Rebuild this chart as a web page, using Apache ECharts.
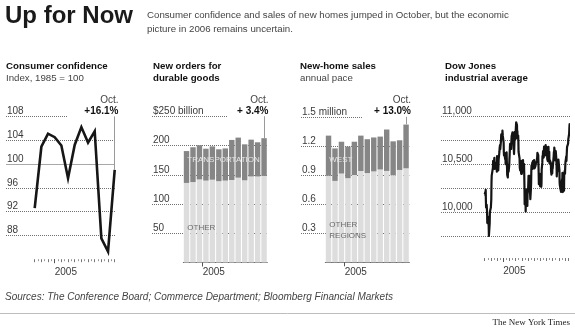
<!DOCTYPE html>
<html><head><meta charset="utf-8">
<script src="https://cdn.jsdelivr.net/npm/echarts@6/dist/echarts.min.js"></script>
<style>html,body{margin:0;padding:0;background:#fff}#c{width:575px;height:331px}</style>
</head><body><div id="c"></div>
<script>
const FONT = "'Liberation Sans', Arial, Helvetica, sans-serif";

// ---------- data ----------
const months = ['Oct 2004','Nov 2004','Dec 2004','Jan 2005','Feb 2005','Mar 2005','Apr 2005','May 2005','Jun 2005','Jul 2005','Aug 2005','Sep 2005','Oct 2005'];
const monthEdges = months.concat(['Nov 2005']);
const dowMonths = months.concat(['Nov 2005']);
const halfMonths = dowMonths.flatMap(m => [m + ' early', m + ' mid']);
const YEAR_LABEL = '2005';

const confidence = [92.6, 102.9, 105.1, 104.5, 103.1, 97.6, 103.2, 106.2, 103.6, 105.5, 87.5, 85.3, 99.0];
const confTicks = [88, 92, 96, 100, 104, 108];
const confTickLabels = ['88', '92', '96', '100', '104', '108'];

const durableOther = [136, 137.5, 142, 140, 141.5, 139, 140, 141, 145, 140.5, 147, 147, 148];
const durableTransport = [54.5, 59.5, 58.5, 54.5, 57, 54.5, 55, 68.5, 68.5, 61.5, 63, 58.5, 64.5];
const durableTicks = [50, 100, 150, 200, 250];
const durableTickLabels = ['50', '100', '150', '200', '$250 billion'];

const homesOther = [0.892, 0.839, 0.915, 0.867, 0.900, 0.941, 0.920, 0.937, 0.957, 0.942, 0.898, 0.952, 0.969];
const homesWest = [0.414, 0.335, 0.328, 0.326, 0.343, 0.365, 0.349, 0.350, 0.339, 0.427, 0.349, 0.306, 0.451];
const homeTicks = [0.3, 0.6, 0.9, 1.2, 1.5];
const homeTickLabels = ['0.3', '0.6', '0.9', '1.2', '1.5 million'];

const dowTicks = [10000, 10500, 11000];
const dowTickLabels = ['10,000', '10,500', '11,000'];
const dowCloses = [
['2004-10-01',10192],['2004-10-04',10216],['2004-10-05',10177],['2004-10-06',10239],['2004-10-07',10125],['2004-10-08',10055],['2004-10-11',10081],['2004-10-12',10077],['2004-10-13',10002],['2004-10-14',9894],['2004-10-15',9933],['2004-10-18',9956],['2004-10-19',9897],['2004-10-20',9886],['2004-10-21',9865],['2004-10-22',9758],['2004-10-25',9749],['2004-10-26',9888],['2004-10-27',10002],['2004-10-28',10004],['2004-10-29',10027],
['2004-11-01',10054],['2004-11-02',10035],['2004-11-03',10137],['2004-11-04',10315],['2004-11-05',10387],['2004-11-08',10391],['2004-11-09',10386],['2004-11-10',10385],['2004-11-11',10469],['2004-11-12',10539],['2004-11-15',10550],['2004-11-16',10487],['2004-11-17',10549],['2004-11-18',10572],['2004-11-19',10456],['2004-11-22',10489],['2004-11-23',10492],['2004-11-24',10520],['2004-11-26',10522],['2004-11-29',10475],['2004-11-30',10428],
['2004-12-01',10590],['2004-12-02',10585],['2004-12-03',10592],['2004-12-06',10547],['2004-12-07',10440],['2004-12-08',10494],['2004-12-09',10552],['2004-12-10',10543],['2004-12-13',10638],['2004-12-14',10676],['2004-12-15',10691],['2004-12-16',10705],['2004-12-17',10661],['2004-12-20',10661],['2004-12-21',10759],['2004-12-22',10815],['2004-12-23',10828],['2004-12-27',10776],['2004-12-28',10854],['2004-12-29',10829],['2004-12-30',10800],['2004-12-31',10783],
['2005-01-03',10730],['2005-01-04',10631],['2005-01-05',10597],['2005-01-06',10622],['2005-01-07',10603],['2005-01-10',10621],['2005-01-11',10557],['2005-01-12',10618],['2005-01-13',10505],['2005-01-14',10558],['2005-01-18',10628],['2005-01-19',10539],['2005-01-20',10471],['2005-01-21',10393],['2005-01-24',10368],['2005-01-25',10461],['2005-01-26',10498],['2005-01-27',10467],['2005-01-28',10427],['2005-01-31',10490],
['2005-02-01',10551],['2005-02-02',10596],['2005-02-03',10593],['2005-02-04',10716],['2005-02-07',10715],['2005-02-08',10724],['2005-02-09',10664],['2005-02-10',10749],['2005-02-11',10796],['2005-02-14',10791],['2005-02-15',10837],['2005-02-16',10834],['2005-02-17',10754],['2005-02-18',10785],['2005-02-22',10611],['2005-02-23',10673],['2005-02-24',10748],['2005-02-25',10841],['2005-02-28',10766],
['2005-03-01',10830],['2005-03-02',10812],['2005-03-03',10833],['2005-03-04',10941],['2005-03-07',10937],['2005-03-08',10912],['2005-03-09',10805],['2005-03-10',10851],['2005-03-11',10774],['2005-03-14',10804],['2005-03-15',10745],['2005-03-16',10633],['2005-03-17',10627],['2005-03-18',10629],['2005-03-21',10565],['2005-03-22',10471],['2005-03-23',10457],['2005-03-24',10442],['2005-03-28',10486],['2005-03-29',10405],['2005-03-30',10541],['2005-03-31',10504],
['2005-04-01',10404],['2005-04-04',10421],['2005-04-05',10458],['2005-04-06',10486],['2005-04-07',10547],['2005-04-08',10461],['2005-04-11',10448],['2005-04-12',10507],['2005-04-13',10403],['2005-04-14',10278],['2005-04-15',10087],['2005-04-18',10071],['2005-04-19',10127],['2005-04-20',10012],['2005-04-21',10218],['2005-04-22',10157],['2005-04-25',10242],['2005-04-26',10152],['2005-04-27',10198],['2005-04-28',10071],['2005-04-29',10192],
['2005-05-02',10251],['2005-05-03',10257],['2005-05-04',10384],['2005-05-05',10340],['2005-05-06',10345],['2005-05-09',10384],['2005-05-10',10281],['2005-05-11',10300],['2005-05-12',10189],['2005-05-13',10140],['2005-05-16',10252],['2005-05-17',10313],['2005-05-18',10446],['2005-05-19',10494],['2005-05-20',10471],['2005-05-23',10523],['2005-05-24',10457],['2005-05-25',10457],['2005-05-26',10537],['2005-05-27',10542],['2005-05-31',10467],
['2005-06-01',10549],['2005-06-02',10553],['2005-06-03',10461],['2005-06-06',10467],['2005-06-07',10483],['2005-06-08',10476],['2005-06-09',10503],['2005-06-10',10513],['2005-06-13',10522],['2005-06-14',10547],['2005-06-15',10566],['2005-06-16',10578],['2005-06-17',10623],['2005-06-20',10609],['2005-06-21',10599],['2005-06-22',10587],['2005-06-23',10421],['2005-06-24',10297],['2005-06-27',10290],['2005-06-28',10405],['2005-06-29',10374],['2005-06-30',10275],
['2005-07-01',10303],['2005-07-05',10372],['2005-07-06',10270],['2005-07-07',10302],['2005-07-08',10449],['2005-07-11',10519],['2005-07-12',10590],['2005-07-13',10563],['2005-07-14',10575],['2005-07-15',10641],['2005-07-18',10575],['2005-07-19',10646],['2005-07-20',10689],['2005-07-21',10627],['2005-07-22',10652],['2005-07-25',10596],['2005-07-26',10579],['2005-07-27',10637],['2005-07-28',10705],['2005-07-29',10641],
['2005-08-01',10623],['2005-08-02',10683],['2005-08-03',10697],['2005-08-04',10610],['2005-08-05',10558],['2005-08-08',10536],['2005-08-09',10615],['2005-08-10',10594],['2005-08-11',10686],['2005-08-12',10600],['2005-08-15',10635],['2005-08-16',10514],['2005-08-17',10550],['2005-08-18',10554],['2005-08-19',10559],['2005-08-22',10569],['2005-08-23',10519],['2005-08-24',10434],['2005-08-25',10450],['2005-08-26',10397],['2005-08-29',10463],['2005-08-30',10412],['2005-08-31',10482],
['2005-09-01',10459],['2005-09-02',10447],['2005-09-06',10589],['2005-09-07',10633],['2005-09-08',10595],['2005-09-09',10679],['2005-09-12',10682],['2005-09-13',10597],['2005-09-14',10544],['2005-09-15',10558],['2005-09-16',10641],['2005-09-19',10557],['2005-09-20',10481],['2005-09-21',10378],['2005-09-22',10422],['2005-09-23',10420],['2005-09-26',10444],['2005-09-27',10456],['2005-09-28',10473],['2005-09-29',10552],['2005-09-30',10569],
['2005-10-03',10535],['2005-10-04',10441],['2005-10-05',10317],['2005-10-06',10288],['2005-10-07',10292],['2005-10-10',10238],['2005-10-11',10254],['2005-10-12',10217],['2005-10-13',10216],['2005-10-14',10287],['2005-10-17',10348],['2005-10-18',10285],['2005-10-19',10414],['2005-10-20',10282],['2005-10-21',10215],['2005-10-24',10385],['2005-10-25',10377],['2005-10-26',10345],['2005-10-27',10229],['2005-10-28',10402],['2005-10-31',10440],
['2005-11-01',10406],['2005-11-02',10473],['2005-11-03',10523],['2005-11-04',10531],['2005-11-07',10586],['2005-11-08',10539],['2005-11-09',10547],['2005-11-10',10640],['2005-11-11',10686],['2005-11-14',10697],['2005-11-15',10674],['2005-11-16',10720],['2005-11-17',10766],['2005-11-18',10766],['2005-11-21',10820],['2005-11-22',10871],['2005-11-23',10916],['2005-11-25',10931]
];

const lastMonthLabel = 'Oct.';
const changeLabels = ['+16.1%', '+ 3.4%', '+ 13.0%'];

// ---------- helpers ----------
const grids = [], xAxis = [], yAxis = [], series = [];
const DOT = {color: '#707070', width: 1, type: [1, 1]};
function grid(left, right, top, bottom) {
  grids.push({left: left, width: right - left, top: top, height: bottom - top});
  return grids.length - 1;
}
function hiddenX(g) {
  xAxis.push({type: 'value', gridIndex: g, min: 0, max: 1, show: false, position: 'bottom'});
  return xAxis.length - 1;
}
function yVal(g, min, max, interval, extra) {
  yAxis.push(Object.assign({
    type: 'value', gridIndex: g, min: min, max: max, interval: interval, position: 'left',
    axisLine: {show: false, onZero: false}, axisTick: {show: false},
    axisLabel: {show: false}, splitLine: {show: false}
  }, extra || {}));
  return yAxis.length - 1;
}
function lookup(ticks, labels) {
  return function (v) {
    const i = ticks.findIndex(t => Math.abs(t - v) < 1e-6);
    return i >= 0 ? labels[i] : '';
  };
}
function insideLabels(fmt) {
  return {show: true, inside: true, align: 'left', verticalAlign: 'bottom', margin: 1,
    color: '#3a3a3a', fontSize: 10, fontFamily: FONT, formatter: fmt,
    showMinLabel: false, showMaxLabel: true};
}
function majorAxis(g, cats, idx, margin, offset) {
  xAxis.push({
    type: 'category', gridIndex: g, data: cats, boundaryGap: false, position: 'bottom', offset: offset,
    axisLine: {show: false, onZero: false},
    axisTick: {show: true, interval: (i) => i === idx, length: 4, lineStyle: {color: '#555'}},
    axisLabel: {show: true, interval: (i) => i === idx, formatter: () => YEAR_LABEL, align: 'left',
      margin: margin, color: '#3a3a3a', fontSize: 10, fontFamily: FONT},
    splitLine: {show: false}
  });
  return xAxis.length - 1;
}
function leader(x, y0, y1) {
  return {silent: true, symbol: ['none', 'none'], animation: false, label: {show: false},
    emphasis: {disabled: true},
    lineStyle: {color: '#9a9a9a', width: 1, type: 'solid'},
    data: [[{coord: [x, y0]}, {coord: [x, y1]}]]};
}
function minorTickAxis(g, max, offset) {
  xAxis.push({
    type: 'value', gridIndex: g, min: 0, max: max, interval: 1, position: 'bottom', offset: offset,
    axisLine: {show: false, onZero: false}, axisLabel: {show: false}, splitLine: {show: false},
    axisTick: {show: true, length: 3, lineStyle: {color: '#777'}},
    minorTick: {show: true, splitNumber: 2, length: 2, lineStyle: {color: '#999'}},
    minorSplitLine: {show: false}
  });
  return xAxis.length - 1;
}
function toMonths(s) {
  const p = s.split('-').map(Number);
  const dim = new Date(p[0], p[1], 0).getDate();
  return (p[0] - 2004) * 12 + (p[1] - 10) + (p[2] - 1) / dim;
}

// ---------- panel 1: consumer confidence ----------
(function () {
  const top = 116.4, bottom = 259.2, min = 84, max = 108;
  let g = grid(6, 115, top, bottom); hiddenX(g);
  yVal(g, min, max, 4, {axisLabel: insideLabels(lookup(confTicks, confTickLabels)),
    splitLine: {show: true, showMinLine: false, showMaxLine: false, lineStyle: DOT}});
  g = grid(6, 68, top, bottom); hiddenX(g);
  yVal(g, min, max, max - min, {splitLine: {show: true, showMinLine: false, lineStyle: DOT}});
  const y100 = top + (max - 100) / (max - min) * (bottom - top);
  g = grid(6, 115, y100, bottom); hiddenX(g);
  yVal(g, min, 100, 100 - min, {splitLine: {show: true, showMinLine: false, lineStyle: {color: '#a8a8a8', width: 1}}});
  g = grid(34.7, 114.7, top, bottom);
  const xv = minorTickAxis(g, confidence.length - 1, 0);
  majorAxis(g, months, months.indexOf('Jan 2005'), 8, 0);
  const yv = yVal(g, min, max, 4, {show: false});
  const last = confidence.length - 1;
  series.push({type: 'line', xAxisIndex: xv, yAxisIndex: yv, silent: true, symbol: 'none',
    data: confidence.map((v, i) => [i, v]),
    lineStyle: {color: '#161616', width: 2.6, join: 'miter', miterLimit: 8},
    markLine: leader(last, confidence[last], max)});
})();

// ---------- bar panel builder ----------
function barPanel(bgLeft, shortRight, barLeft, barRight, top, bottom, max, interval, ticks, labels, lower, upper, stack) {
  let g = grid(bgLeft, barRight, top, bottom); hiddenX(g);
  yVal(g, 0, max, interval, {axisLabel: insideLabels(lookup(ticks, labels)),
    splitLine: {show: true, showMinLine: false, showMaxLine: false, lineStyle: DOT}});
  g = grid(bgLeft, shortRight, top, bottom); hiddenX(g);
  yVal(g, 0, max, max, {splitLine: {show: true, showMinLine: false, lineStyle: DOT}});
  g = grid(barLeft, barRight, top, bottom);
  xAxis.push({type: 'category', gridIndex: g, data: months, boundaryGap: true, position: 'bottom',
    axisLine: {show: true, onZero: false, lineStyle: {color: '#6a6a6a', width: 1}},
    axisTick: {show: false}, axisLabel: {show: false}});
  const xc = xAxis.length - 1;
  majorAxis(g, monthEdges, monthEdges.indexOf('Jan 2005'), 5, 0);
  const yv = yVal(g, 0, max, interval, {show: false});
  const last = months.length - 1;
  series.push({type: 'bar', stack: stack, xAxisIndex: xc, yAxisIndex: yv, silent: true,
    barCategoryGap: '16%', itemStyle: {color: '#dddddd'}, data: lower});
  series.push({type: 'bar', stack: stack, xAxisIndex: xc, yAxisIndex: yv, silent: true,
    barCategoryGap: '16%', itemStyle: {color: '#868686'}, data: upper,
    markLine: leader(months[last], lower[last] + upper[last], max)});
}
barPanel(152, 227, 183.3, 267.3, 116.25, 262.5, 250, 50, durableTicks, durableTickLabels, durableOther, durableTransport, 'durable');
barPanel(301, 363, 325.3, 409.3, 116.8, 262.3, 1.5, 0.3, homeTicks, homeTickLabels, homesOther, homesWest, 'homes');

// ---------- panel 4: Dow ----------
(function () {
  const top = 116.7, bottom = 236.7, min = 9750, max = 11000;
  let g = grid(441, 570, top, bottom); hiddenX(g);
  yVal(g, min, max, 250, {axisLabel: insideLabels(lookup(dowTicks, dowTickLabels)),
    splitLine: {show: true, lineStyle: DOT}});
  g = grid(484.7, 568.1, top, bottom);
  const xv = minorTickAxis(g, 13.5, 21.3);
  majorAxis(g, halfMonths, halfMonths.indexOf('Jan 2005 early'), 8, 21.3);
  const yv = yVal(g, min, max, 250, {show: false});
  series.push({type: 'line', xAxisIndex: xv, yAxisIndex: yv, silent: true, symbol: 'none', clip: false,
    data: dowCloses.map(d => [toMonths(d[0]), d[1]]),
    lineStyle: {color: '#141414', width: 2.2, join: 'round'}});
})();

// ---------- text ----------
function T(x, y, text, size, o) {
  o = o || {};
  return {type: 'text', x: x, y: y, silent: true, z: 10,
    style: {text: text, fontSize: size, fontFamily: o.family || FONT, fontWeight: o.weight || 'normal',
      fontStyle: o.style || 'normal', fill: o.fill || '#333', align: o.align || 'left',
      verticalAlign: 'middle'}};
}
const elements = [
  T(5, 16, 'Up for Now', 24, {weight: 'bold', fill: '#1a1a1a'}),
  T(147, 15, 'Consumer confidence and sales of new homes jumped in October, but the economic', 9.7, {fill: '#444'}),
  T(147, 29, 'picture in 2006 remains uncertain.', 9.7, {fill: '#444'}),
  T(6, 66, 'Consumer confidence', 9.7, {weight: 'bold', fill: '#111'}),
  T(6, 78.3, 'Index, 1985 = 100', 9.7, {fill: '#444'}),
  T(153, 66, 'New orders for', 9.7, {weight: 'bold', fill: '#111'}),
  T(153, 78.3, 'durable goods', 9.7, {weight: 'bold', fill: '#111'}),
  T(300, 66, 'New-home sales', 9.7, {weight: 'bold', fill: '#111'}),
  T(300, 78.3, 'annual pace', 9.7, {fill: '#444'}),
  T(445, 66, 'Dow Jones', 9.7, {weight: 'bold', fill: '#111'}),
  T(445, 78.3, 'industrial average', 9.7, {weight: 'bold', fill: '#111'}),
  T(118.5, 100, lastMonthLabel, 10, {align: 'right', fill: '#444'}),
  T(118.5, 111.7, changeLabels[0], 10, {align: 'right', weight: 'bold', fill: '#111'}),
  T(268.5, 100, lastMonthLabel, 10, {align: 'right', fill: '#444'}),
  T(268.5, 111.7, changeLabels[1], 10, {align: 'right', weight: 'bold', fill: '#111'}),
  T(411, 100, lastMonthLabel, 10, {align: 'right', fill: '#444'}),
  T(411, 111.7, changeLabels[2], 10, {align: 'right', weight: 'bold', fill: '#111'}),
  T(187.3, 160, 'TRANSPORTATION', 8, {fill: '#e6e6e6'}),
  T(187.3, 227.3, 'OTHER', 8, {fill: '#6a6a6a'}),
  T(329.3, 160, 'WEST', 8, {fill: '#e6e6e6'}),
  T(329.3, 225, 'OTHER', 8, {fill: '#6a6a6a'}),
  T(329.3, 236, 'REGIONS', 8, {fill: '#6a6a6a'}),
  T(5, 297, 'Sources: The Conference Board; Commerce Department; Bloomberg Financial Markets', 10, {style: 'italic', fill: '#444'}),
  {type: 'line', silent: true, shape: {x1: 0, y1: 313.5, x2: 575, y2: 313.5}, style: {stroke: '#bdbdbd', lineWidth: 1}},
  T(570, 322.5, 'The New York Times', 9, {align: 'right', family: "'Liberation Serif', 'Times New Roman', serif", fill: '#222'})
];

const chart = echarts.init(document.getElementById('c'), null, {renderer: 'canvas'});
chart.setOption({
  animation: false,
  backgroundColor: '#fff',
  grid: grids, xAxis: xAxis, yAxis: yAxis, series: series,
  graphic: {elements: elements}
});
</script></body></html>
